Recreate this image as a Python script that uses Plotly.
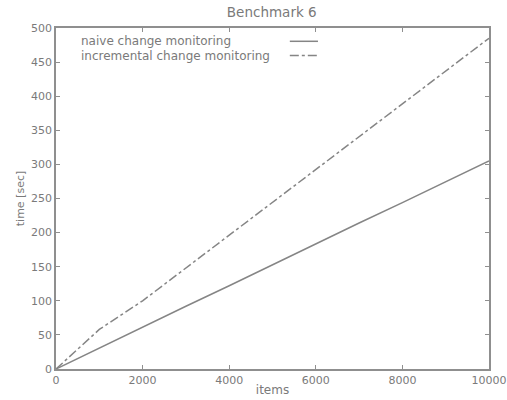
import plotly.graph_objects as go

items = [0, 1000, 2000, 3000, 4000, 5000, 6000, 7000, 8000, 9000, 10000]
naive = [0, 31, 61, 92, 122, 153, 183, 214, 244, 275, 305]
incremental = [0, 58, 100, 148, 196, 244, 292, 340, 388, 436, 485]

series_names = ["naive change monitoring", "incremental change monitoring"]
x_ticks = [0, 2000, 4000, 6000, 8000, 10000]
y_ticks = list(range(0, 501, 50))

line_col = "#858585"
txt_col = "#7a7a7a"
fam = "DejaVu Sans, Liberation Sans, sans-serif"
font = dict(family=fam, size=11, color=txt_col)
key_font = dict(family=fam, size=12, color=txt_col)
title_font = dict(family=fam, size=13.5, color=txt_col)

fig = go.Figure()
fig.add_trace(go.Scatter(x=items, y=naive, mode="lines", name=series_names[0],
                         line=dict(color=line_col, width=1.5), showlegend=False))
fig.add_trace(go.Scatter(x=items, y=incremental, mode="lines", name=series_names[1],
                         line=dict(color=line_col, width=1.5, dash="dashdot"), showlegend=False))

# gnuplot-style key: text on the left, sample on the right
key_rows = [(0.961, "solid"), (0.919, "dashdot")]
for (yp, dash), name in zip(key_rows, series_names):
    fig.add_annotation(x=0.056, y=yp, xref="paper", yref="paper", text=name,
                       showarrow=False, xanchor="left", yanchor="middle", font=key_font,
                       borderpad=0)
    fig.add_shape(type="line", xref="paper", yref="paper", x0=0.54, x1=0.605,
                  y0=yp, y1=yp, line=dict(color=line_col, width=1.5, dash=dash))

axis_common = dict(showgrid=False, zeroline=False, showline=True, linecolor="#8f8f8f",
                   linewidth=1.5, mirror="allticks", ticks="inside", ticklen=4,
                   tickcolor="#8f8f8f", tickfont=font, automargin=False)

fig.update_layout(
    width=507, height=400,
    margin=dict(l=56, r=18, t=28, b=31),
    paper_bgcolor="white", plot_bgcolor="white",
    title=dict(text="Benchmark 6", x=0.536, xanchor="center", y=0.97, yanchor="middle", font=title_font),
    xaxis=dict(range=[0, 10000], tickvals=x_ticks, ticktext=[str(v) for v in x_ticks],
               title=dict(text="items", font=dict(family=fam, size=12, color=txt_col), standoff=0),
               **axis_common),
    yaxis=dict(range=[0, 500], tickvals=y_ticks, ticktext=[str(v) for v in y_ticks],
               title=dict(text="time [sec]", font=font, standoff=4), **axis_common),
)

fig.write_html("out.html", config={"displayModeBar": False},
               post_script="document.body.style.margin='0';document.body.style.overflow='hidden';")
